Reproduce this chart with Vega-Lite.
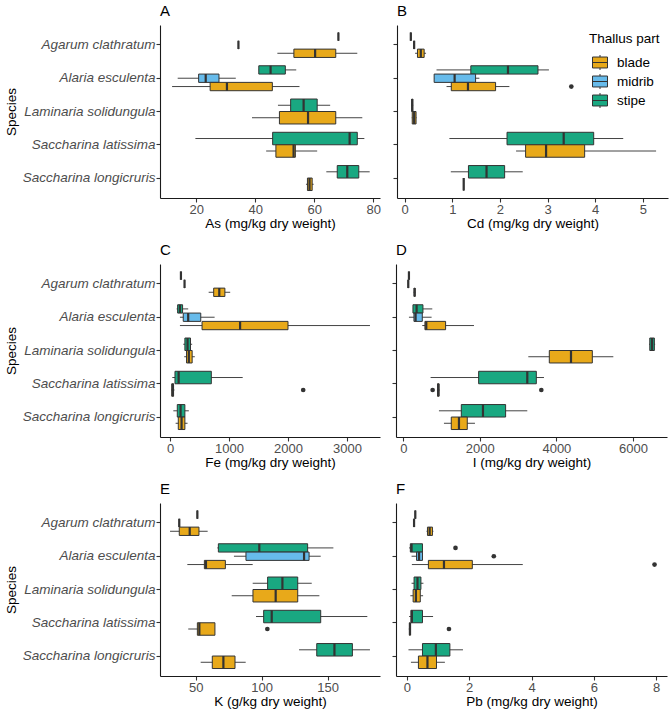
{
"$schema": "https://vega.github.io/schema/vega-lite/v6.json",
"padding": {"left": 4, "top": 4, "right": 4, "bottom": 4},
"datasets": {"d": [
{"el":"As","sp":"Agarum clathratum","part":"stipe","lo":68.2,"q1":68.2,"med":68.2,"q3":68.2,"hi":68.2},
{"el":"As","sp":"Agarum clathratum","part":"midrib","lo":34.3,"q1":34.3,"med":34.3,"q3":34.3,"hi":34.3},
{"el":"As","sp":"Agarum clathratum","part":"blade","lo":47.5,"q1":53.1,"med":60.3,"q3":67.3,"hi":74.6},
{"el":"As","sp":"Alaria esculenta","part":"stipe","lo":41.2,"q1":41.2,"med":45.2,"q3":50.2,"hi":53.9},
{"el":"As","sp":"Alaria esculenta","part":"midrib","lo":13.7,"q1":20.8,"med":23.2,"q3":27.7,"hi":33.4},
{"el":"As","sp":"Alaria esculenta","part":"blade","lo":11.8,"q1":24.7,"med":30.4,"q3":45.8,"hi":55.0},
{"el":"As","sp":"Laminaria solidungula","part":"stipe","lo":47.7,"q1":52.0,"med":56.4,"q3":61.0,"hi":65.4},
{"el":"As","sp":"Laminaria solidungula","part":"blade","lo":38.9,"q1":48.2,"med":57.9,"q3":67.3,"hi":76.3},
{"el":"As","sp":"Saccharina latissima","part":"stipe","lo":19.7,"q1":45.9,"med":72.0,"q3":74.6,"hi":77.0},
{"el":"As","sp":"Saccharina latissima","part":"blade","lo":43.7,"q1":47.0,"med":53.0,"q3":53.6,"hi":61.0},
{"el":"As","sp":"Saccharina longicruris","part":"stipe","lo":64.1,"q1":67.8,"med":71.2,"q3":75.1,"hi":78.8},
{"el":"As","sp":"Saccharina longicruris","part":"blade","lo":57.2,"q1":57.7,"med":58.4,"q3":59.3,"hi":59.8},
{"el":"Cd","sp":"Agarum clathratum","part":"stipe","lo":0.13,"q1":0.13,"med":0.13,"q3":0.13,"hi":0.13},
{"el":"Cd","sp":"Agarum clathratum","part":"midrib","lo":0.2,"q1":0.2,"med":0.2,"q3":0.2,"hi":0.2},
{"el":"Cd","sp":"Agarum clathratum","part":"blade","lo":0.22,"q1":0.27,"med":0.34,"q3":0.41,"hi":0.45},
{"el":"Cd","sp":"Alaria esculenta","part":"stipe","lo":0.67,"q1":1.39,"med":2.17,"q3":2.8,"hi":3.03},
{"el":"Cd","sp":"Alaria esculenta","part":"midrib","lo":0.62,"q1":0.62,"med":1.05,"q3":1.49,"hi":1.57},
{"el":"Cd","sp":"Alaria esculenta","part":"blade","lo":0.88,"q1":0.98,"med":1.33,"q3":1.91,"hi":2.2},
{"el":"Cd","sp":"Alaria esculenta","part":"blade","out":3.5},
{"el":"Cd","sp":"Laminaria solidungula","part":"stipe","lo":0.14,"q1":0.15,"med":0.16,"q3":0.17,"hi":0.18},
{"el":"Cd","sp":"Laminaria solidungula","part":"blade","lo":0.15,"q1":0.16,"med":0.2,"q3":0.24,"hi":0.25},
{"el":"Cd","sp":"Saccharina latissima","part":"stipe","lo":0.94,"q1":2.15,"med":3.34,"q3":3.97,"hi":4.59},
{"el":"Cd","sp":"Saccharina latissima","part":"blade","lo":2.34,"q1":2.54,"med":2.97,"q3":3.78,"hi":5.28},
{"el":"Cd","sp":"Saccharina longicruris","part":"stipe","lo":0.97,"q1":1.34,"med":1.72,"q3":2.1,"hi":2.48},
{"el":"Cd","sp":"Saccharina longicruris","part":"blade","lo":1.24,"q1":1.24,"med":1.24,"q3":1.24,"hi":1.24},
{"el":"Fe","sp":"Agarum clathratum","part":"stipe","lo":185,"q1":185,"med":185,"q3":185,"hi":185},
{"el":"Fe","sp":"Agarum clathratum","part":"midrib","lo":246,"q1":246,"med":246,"q3":246,"hi":246},
{"el":"Fe","sp":"Agarum clathratum","part":"blade","lo":655,"q1":740,"med":835,"q3":930,"hi":1020},
{"el":"Fe","sp":"Alaria esculenta","part":"stipe","lo":112,"q1":129,"med":168,"q3":213,"hi":308},
{"el":"Fe","sp":"Alaria esculenta","part":"midrib","lo":168,"q1":224,"med":308,"q3":521,"hi":756},
{"el":"Fe","sp":"Alaria esculenta","part":"blade","lo":168,"q1":543,"med":1188,"q3":2000,"hi":3390},
{"el":"Fe","sp":"Laminaria solidungula","part":"stipe","lo":224,"q1":252,"med":297,"q3":347,"hi":375},
{"el":"Fe","sp":"Laminaria solidungula","part":"blade","lo":241,"q1":280,"med":319,"q3":375,"hi":420},
{"el":"Fe","sp":"Saccharina latissima","part":"stipe","lo":39,"q1":84,"med":146,"q3":700,"hi":1232},
{"el":"Fe","sp":"Saccharina latissima","part":"blade","lo":20,"q1":30,"med":45,"q3":60,"hi":75},
{"el":"Fe","sp":"Saccharina latissima","part":"blade","out":2258},
{"el":"Fe","sp":"Saccharina longicruris","part":"stipe","lo":56,"q1":123,"med":179,"q3":252,"hi":319},
{"el":"Fe","sp":"Saccharina longicruris","part":"blade","lo":95,"q1":140,"med":196,"q3":252,"hi":297},
{"el":"I","sp":"Agarum clathratum","part":"stipe","lo":148,"q1":148,"med":148,"q3":148,"hi":148},
{"el":"I","sp":"Agarum clathratum","part":"midrib","lo":131,"q1":131,"med":131,"q3":131,"hi":131},
{"el":"I","sp":"Agarum clathratum","part":"blade","lo":270,"q1":285,"med":296,"q3":310,"hi":320},
{"el":"I","sp":"Alaria esculenta","part":"stipe","lo":253,"q1":253,"med":348,"q3":514,"hi":758},
{"el":"I","sp":"Alaria esculenta","part":"midrib","lo":148,"q1":279,"med":322,"q3":497,"hi":740},
{"el":"I","sp":"Alaria esculenta","part":"blade","lo":497,"q1":566,"med":601,"q3":1106,"hi":1847},
{"el":"I","sp":"Laminaria solidungula","part":"stipe","lo":6420,"q1":6440,"med":6500,"q3":6560,"hi":6580},
{"el":"I","sp":"Laminaria solidungula","part":"blade","lo":3267,"q1":3815,"med":4382,"q3":4939,"hi":5488},
{"el":"I","sp":"Saccharina latissima","part":"stipe","lo":714,"q1":1969,"med":3240,"q3":3476,"hi":3676},
{"el":"I","sp":"Saccharina latissima","part":"blade","lo":880,"q1":895,"med":915,"q3":935,"hi":950},
{"el":"I","sp":"Saccharina latissima","part":"blade","out":767},
{"el":"I","sp":"Saccharina latissima","part":"blade","out":3606},
{"el":"I","sp":"Saccharina longicruris","part":"stipe","lo":932,"q1":1516,"med":2082,"q3":2674,"hi":3240},
{"el":"I","sp":"Saccharina longicruris","part":"blade","lo":1063,"q1":1254,"med":1455,"q3":1672,"hi":1873},
{"el":"K","sp":"Agarum clathratum","part":"stipe","lo":51.3,"q1":51.3,"med":51.3,"q3":51.3,"hi":51.3},
{"el":"K","sp":"Agarum clathratum","part":"midrib","lo":37.6,"q1":37.6,"med":37.6,"q3":37.6,"hi":37.6},
{"el":"K","sp":"Agarum clathratum","part":"blade","lo":30.6,"q1":37.6,"med":45.5,"q3":52.5,"hi":59.1},
{"el":"K","sp":"Alaria esculenta","part":"stipe","lo":66.4,"q1":67.2,"med":98.2,"q3":134.8,"hi":154.3},
{"el":"K","sp":"Alaria esculenta","part":"midrib","lo":79.0,"q1":88.1,"med":132.1,"q3":135.9,"hi":144.7},
{"el":"K","sp":"Alaria esculenta","part":"blade","lo":43.7,"q1":56.6,"med":57.8,"q3":72.5,"hi":93.2},
{"el":"K","sp":"Laminaria solidungula","part":"stipe","lo":93.2,"q1":104.5,"med":115.7,"q3":127.3,"hi":137.9},
{"el":"K","sp":"Laminaria solidungula","part":"blade","lo":77.3,"q1":93.4,"med":110.6,"q3":127.3,"hi":143.7},
{"el":"K","sp":"Saccharina latissima","part":"stipe","lo":95.7,"q1":101.5,"med":107.6,"q3":144.7,"hi":180.0},
{"el":"K","sp":"Saccharina latissima","part":"blade","lo":44.4,"q1":51.3,"med":52.8,"q3":64.6,"hi":64.6},
{"el":"K","sp":"Saccharina latissima","part":"blade","out":104.3},
{"el":"K","sp":"Saccharina longicruris","part":"stipe","lo":128.3,"q1":141.7,"med":155.1,"q3":168.7,"hi":182.0},
{"el":"K","sp":"Saccharina longicruris","part":"blade","lo":53.8,"q1":62.6,"med":71.0,"q3":79.8,"hi":87.9},
{"el":"Pb","sp":"Agarum clathratum","part":"stipe","lo":0.27,"q1":0.27,"med":0.27,"q3":0.27,"hi":0.27},
{"el":"Pb","sp":"Agarum clathratum","part":"midrib","lo":0.23,"q1":0.23,"med":0.23,"q3":0.23,"hi":0.23},
{"el":"Pb","sp":"Agarum clathratum","part":"blade","lo":0.63,"q1":0.66,"med":0.73,"q3":0.82,"hi":0.85},
{"el":"Pb","sp":"Alaria esculenta","part":"stipe","lo":0.07,"q1":0.11,"med":0.15,"q3":0.5,"hi":0.5},
{"el":"Pb","sp":"Alaria esculenta","part":"stipe","out":1.56},
{"el":"Pb","sp":"Alaria esculenta","part":"midrib","lo":0.15,"q1":0.31,"med":0.39,"q3":0.5,"hi":0.5},
{"el":"Pb","sp":"Alaria esculenta","part":"midrib","out":2.79},
{"el":"Pb","sp":"Alaria esculenta","part":"blade","lo":0.16,"q1":0.69,"med":1.19,"q3":2.1,"hi":3.72},
{"el":"Pb","sp":"Alaria esculenta","part":"blade","out":7.95},
{"el":"Pb","sp":"Laminaria solidungula","part":"stipe","lo":0.15,"q1":0.23,"med":0.34,"q3":0.45,"hi":0.53},
{"el":"Pb","sp":"Laminaria solidungula","part":"blade","lo":0.11,"q1":0.2,"med":0.29,"q3":0.43,"hi":0.52},
{"el":"Pb","sp":"Saccharina latissima","part":"stipe","lo":0.07,"q1":0.13,"med":0.16,"q3":0.5,"hi":0.84},
{"el":"Pb","sp":"Saccharina latissima","part":"blade","lo":0.06,"q1":0.08,"med":0.1,"q3":0.11,"hi":0.12},
{"el":"Pb","sp":"Saccharina latissima","part":"blade","out":1.35},
{"el":"Pb","sp":"Saccharina longicruris","part":"stipe","lo":0.05,"q1":0.5,"med":0.93,"q3":1.38,"hi":1.8},
{"el":"Pb","sp":"Saccharina longicruris","part":"blade","lo":0.13,"q1":0.37,"med":0.66,"q3":0.95,"hi":1.22}
]},
"resolve": {"legend": {"fill": "independent"}},
"vconcat": [
{"resolve": {"legend": {"fill": "independent"}}, "hconcat": [
{"title": "A", "width": 220, "height": 173, "data": {"name": "d"}, "transform": [{"filter": "datum.el=='As'"}],
 "encoding": {"y": {"field": "sp", "type": "nominal", "scale": {"domain": ["Agarum clathratum","Alaria esculenta","Laminaria solidungula","Saccharina latissima","Saccharina longicruris"], "paddingInner": 0, "paddingOuter": 0.1}, "axis": {"title": "Species", "labelFontStyle": "italic", "labelFontSize": 13.5, "titlePadding": 4}}},
 "resolve": {"scale": {"yOffset": "independent"}},
 "layer": [
  {"transform": [{"filter": "datum.sp=='Agarum clathratum'||datum.sp=='Alaria esculenta'"}],
   "encoding": {"yOffset": {"field": "part", "scale": {"domain": ["stipe","midrib","blade"], "paddingInner": 0, "paddingOuter": 0.5}}},
   "layer": [
    {"mark": "rule", "encoding": {"x": {"field": "lo", "type": "quantitative", "title": "As (mg/kg dry weight)", "scale": {"domain": [7.7,82.3], "nice": false, "zero": false}, "axis": {"values": [20,40,60,80], "format": "d"}}, "x2": {"field": "hi"}}},
    {"mark": "bar", "encoding": {"x": {"field": "q1", "type": "quantitative", "title": "As (mg/kg dry weight)", "scale": {"domain": [7.7,82.3], "nice": false, "zero": false}}, "x2": {"field": "q3"}, "fill": {"field": "part", "type": "nominal", "title": "Thallus part", "legend": null, "scale": {"domain": ["blade","midrib","stipe"], "range": ["#E8A91A","#67BBEB","#19A881"]}}}},
    {"mark": {"type": "bar", "fill": "#333333", "stroke": "#333333", "strokeWidth": 2.2}, "encoding": {"x": {"field": "med", "type": "quantitative", "title": "As (mg/kg dry weight)", "scale": {"domain": [7.7,82.3], "nice": false, "zero": false}}, "x2": {"field": "med"}}},
    {"transform": [{"filter": "isValid(datum.out)"}], "mark": "point", "encoding": {"x": {"field": "out", "type": "quantitative", "title": "As (mg/kg dry weight)", "scale": {"domain": [7.7,82.3], "nice": false, "zero": false}}}}
   ]},
  {"transform": [{"filter": "datum.sp!='Agarum clathratum'&&datum.sp!='Alaria esculenta'"}],
   "encoding": {"yOffset": {"field": "part", "scale": {"domain": ["stipe","blade"], "paddingInner": 0, "paddingOuter": 0.333}}},
   "layer": [
    {"mark": "rule", "encoding": {"x": {"field": "lo", "type": "quantitative", "title": "As (mg/kg dry weight)", "scale": {"domain": [7.7,82.3], "nice": false, "zero": false}}, "x2": {"field": "hi"}}},
    {"mark": "bar", "encoding": {"x": {"field": "q1", "type": "quantitative", "title": "As (mg/kg dry weight)", "scale": {"domain": [7.7,82.3], "nice": false, "zero": false}}, "x2": {"field": "q3"}, "fill": {"field": "part", "type": "nominal", "title": "Thallus part", "legend": null}}},
    {"mark": {"type": "bar", "fill": "#333333", "stroke": "#333333", "strokeWidth": 2.2}, "encoding": {"x": {"field": "med", "type": "quantitative", "title": "As (mg/kg dry weight)", "scale": {"domain": [7.7,82.3], "nice": false, "zero": false}}, "x2": {"field": "med"}}},
    {"transform": [{"filter": "isValid(datum.out)"}], "mark": "point", "encoding": {"x": {"field": "out", "type": "quantitative", "title": "As (mg/kg dry weight)", "scale": {"domain": [7.7,82.3], "nice": false, "zero": false}}}}
   ]}
 ]},
{"title": "B", "width": 271, "height": 173, "data": {"name": "d"}, "transform": [{"filter": "datum.el=='Cd'"}],
 "encoding": {"y": {"field": "sp", "type": "nominal", "scale": {"domain": ["Agarum clathratum","Alaria esculenta","Laminaria solidungula","Saccharina latissima","Saccharina longicruris"], "paddingInner": 0, "paddingOuter": 0.1}, "axis": {"title": null, "labels": false}}},
 "resolve": {"scale": {"yOffset": "independent"}},
 "layer": [
  {"transform": [{"filter": "datum.sp=='Agarum clathratum'||datum.sp=='Alaria esculenta'"}],
   "encoding": {"yOffset": {"field": "part", "scale": {"domain": ["stipe","midrib","blade"], "paddingInner": 0, "paddingOuter": 0.5}}},
   "layer": [
    {"mark": "rule", "encoding": {"x": {"field": "lo", "type": "quantitative", "title": "Cd (mg/kg dry weight)", "scale": {"domain": [-0.16,5.53], "nice": false, "zero": false}, "axis": {"values": [0,1,2,3,4,5], "format": "d"}}, "x2": {"field": "hi"}}},
    {"mark": "bar", "encoding": {"x": {"field": "q1", "type": "quantitative", "title": "Cd (mg/kg dry weight)", "scale": {"domain": [-0.16,5.53], "nice": false, "zero": false}}, "x2": {"field": "q3"}, "fill": {"field": "part", "type": "nominal", "title": "Thallus part"}}},
    {"mark": {"type": "bar", "fill": "#333333", "stroke": "#333333", "strokeWidth": 2.2}, "encoding": {"x": {"field": "med", "type": "quantitative", "title": "Cd (mg/kg dry weight)", "scale": {"domain": [-0.16,5.53], "nice": false, "zero": false}}, "x2": {"field": "med"}}},
    {"transform": [{"filter": "isValid(datum.out)"}], "mark": "point", "encoding": {"x": {"field": "out", "type": "quantitative", "title": "Cd (mg/kg dry weight)", "scale": {"domain": [-0.16,5.53], "nice": false, "zero": false}}}}
   ]},
  {"transform": [{"filter": "datum.sp!='Agarum clathratum'&&datum.sp!='Alaria esculenta'"}],
   "encoding": {"yOffset": {"field": "part", "scale": {"domain": ["stipe","blade"], "paddingInner": 0, "paddingOuter": 0.333}}},
   "layer": [
    {"mark": "rule", "encoding": {"x": {"field": "lo", "type": "quantitative", "title": "Cd (mg/kg dry weight)", "scale": {"domain": [-0.16,5.53], "nice": false, "zero": false}}, "x2": {"field": "hi"}}},
    {"mark": "bar", "encoding": {"x": {"field": "q1", "type": "quantitative", "title": "Cd (mg/kg dry weight)", "scale": {"domain": [-0.16,5.53], "nice": false, "zero": false}}, "x2": {"field": "q3"}, "fill": {"field": "part", "type": "nominal", "title": "Thallus part"}}},
    {"mark": {"type": "bar", "fill": "#333333", "stroke": "#333333", "strokeWidth": 2.2}, "encoding": {"x": {"field": "med", "type": "quantitative", "title": "Cd (mg/kg dry weight)", "scale": {"domain": [-0.16,5.53], "nice": false, "zero": false}}, "x2": {"field": "med"}}},
    {"transform": [{"filter": "isValid(datum.out)"}], "mark": "point", "encoding": {"x": {"field": "out", "type": "quantitative", "title": "Cd (mg/kg dry weight)", "scale": {"domain": [-0.16,5.53], "nice": false, "zero": false}}}}
   ]}
 ]}
], "spacing": 11},
{"resolve": {"legend": {"fill": "independent"}}, "hconcat": [
{"title": "C", "width": 220, "height": 173, "data": {"name": "d"}, "transform": [{"filter": "datum.el=='Fe'"}],
 "encoding": {"y": {"field": "sp", "type": "nominal", "scale": {"domain": ["Agarum clathratum","Alaria esculenta","Laminaria solidungula","Saccharina latissima","Saccharina longicruris"], "paddingInner": 0, "paddingOuter": 0.1}, "axis": {"title": "Species", "labelFontStyle": "italic", "labelFontSize": 13.5, "titlePadding": 4}}},
 "resolve": {"scale": {"yOffset": "independent"}},
 "layer": [
  {"transform": [{"filter": "datum.sp=='Agarum clathratum'||datum.sp=='Alaria esculenta'"}],
   "encoding": {"yOffset": {"field": "part", "scale": {"domain": ["stipe","midrib","blade"], "paddingInner": 0, "paddingOuter": 0.5}}},
   "layer": [
    {"mark": "rule", "encoding": {"x": {"field": "lo", "type": "quantitative", "title": "Fe (mg/kg dry weight)", "scale": {"domain": [-170,3560], "nice": false, "zero": false}, "axis": {"values": [0,1000,2000,3000], "format": "d"}}, "x2": {"field": "hi"}}},
    {"mark": "bar", "encoding": {"x": {"field": "q1", "type": "quantitative", "title": "Fe (mg/kg dry weight)", "scale": {"domain": [-170,3560], "nice": false, "zero": false}}, "x2": {"field": "q3"}, "fill": {"field": "part", "type": "nominal", "title": "Thallus part", "legend": null}}},
    {"mark": {"type": "bar", "fill": "#333333", "stroke": "#333333", "strokeWidth": 2.2}, "encoding": {"x": {"field": "med", "type": "quantitative", "title": "Fe (mg/kg dry weight)", "scale": {"domain": [-170,3560], "nice": false, "zero": false}}, "x2": {"field": "med"}}},
    {"transform": [{"filter": "isValid(datum.out)"}], "mark": "point", "encoding": {"x": {"field": "out", "type": "quantitative", "title": "Fe (mg/kg dry weight)", "scale": {"domain": [-170,3560], "nice": false, "zero": false}}}}
   ]},
  {"transform": [{"filter": "datum.sp!='Agarum clathratum'&&datum.sp!='Alaria esculenta'"}],
   "encoding": {"yOffset": {"field": "part", "scale": {"domain": ["stipe","blade"], "paddingInner": 0, "paddingOuter": 0.333}}},
   "layer": [
    {"mark": "rule", "encoding": {"x": {"field": "lo", "type": "quantitative", "title": "Fe (mg/kg dry weight)", "scale": {"domain": [-170,3560], "nice": false, "zero": false}}, "x2": {"field": "hi"}}},
    {"mark": "bar", "encoding": {"x": {"field": "q1", "type": "quantitative", "title": "Fe (mg/kg dry weight)", "scale": {"domain": [-170,3560], "nice": false, "zero": false}}, "x2": {"field": "q3"}, "fill": {"field": "part", "type": "nominal", "title": "Thallus part", "legend": null}}},
    {"mark": {"type": "bar", "fill": "#333333", "stroke": "#333333", "strokeWidth": 2.2}, "encoding": {"x": {"field": "med", "type": "quantitative", "title": "Fe (mg/kg dry weight)", "scale": {"domain": [-170,3560], "nice": false, "zero": false}}, "x2": {"field": "med"}}},
    {"transform": [{"filter": "isValid(datum.out)"}], "mark": "point", "encoding": {"x": {"field": "out", "type": "quantitative", "title": "Fe (mg/kg dry weight)", "scale": {"domain": [-170,3560], "nice": false, "zero": false}}}}
   ]}
 ]},
{"title": "D", "width": 271, "height": 173, "data": {"name": "d"}, "transform": [{"filter": "datum.el=='I'"}],
 "encoding": {"y": {"field": "sp", "type": "nominal", "scale": {"domain": ["Agarum clathratum","Alaria esculenta","Laminaria solidungula","Saccharina latissima","Saccharina longicruris"], "paddingInner": 0, "paddingOuter": 0.1}, "axis": {"title": null, "labels": false}}},
 "resolve": {"scale": {"yOffset": "independent"}},
 "layer": [
  {"transform": [{"filter": "datum.sp=='Agarum clathratum'||datum.sp=='Alaria esculenta'"}],
   "encoding": {"yOffset": {"field": "part", "scale": {"domain": ["stipe","midrib","blade"], "paddingInner": 0, "paddingOuter": 0.5}}},
   "layer": [
    {"mark": "rule", "encoding": {"x": {"field": "lo", "type": "quantitative", "title": "I (mg/kg dry weight)", "scale": {"domain": [-190,6890], "nice": false, "zero": false}, "axis": {"values": [0,2000,4000,6000], "format": "d"}}, "x2": {"field": "hi"}}},
    {"mark": "bar", "encoding": {"x": {"field": "q1", "type": "quantitative", "title": "I (mg/kg dry weight)", "scale": {"domain": [-190,6890], "nice": false, "zero": false}}, "x2": {"field": "q3"}, "fill": {"field": "part", "type": "nominal", "title": "Thallus part", "legend": null}}},
    {"mark": {"type": "bar", "fill": "#333333", "stroke": "#333333", "strokeWidth": 2.2}, "encoding": {"x": {"field": "med", "type": "quantitative", "title": "I (mg/kg dry weight)", "scale": {"domain": [-190,6890], "nice": false, "zero": false}}, "x2": {"field": "med"}}},
    {"transform": [{"filter": "isValid(datum.out)"}], "mark": "point", "encoding": {"x": {"field": "out", "type": "quantitative", "title": "I (mg/kg dry weight)", "scale": {"domain": [-190,6890], "nice": false, "zero": false}}}}
   ]},
  {"transform": [{"filter": "datum.sp!='Agarum clathratum'&&datum.sp!='Alaria esculenta'"}],
   "encoding": {"yOffset": {"field": "part", "scale": {"domain": ["stipe","blade"], "paddingInner": 0, "paddingOuter": 0.333}}},
   "layer": [
    {"mark": "rule", "encoding": {"x": {"field": "lo", "type": "quantitative", "title": "I (mg/kg dry weight)", "scale": {"domain": [-190,6890], "nice": false, "zero": false}}, "x2": {"field": "hi"}}},
    {"mark": "bar", "encoding": {"x": {"field": "q1", "type": "quantitative", "title": "I (mg/kg dry weight)", "scale": {"domain": [-190,6890], "nice": false, "zero": false}}, "x2": {"field": "q3"}, "fill": {"field": "part", "type": "nominal", "title": "Thallus part", "legend": null}}},
    {"mark": {"type": "bar", "fill": "#333333", "stroke": "#333333", "strokeWidth": 2.2}, "encoding": {"x": {"field": "med", "type": "quantitative", "title": "I (mg/kg dry weight)", "scale": {"domain": [-190,6890], "nice": false, "zero": false}}, "x2": {"field": "med"}}},
    {"transform": [{"filter": "isValid(datum.out)"}], "mark": "point", "encoding": {"x": {"field": "out", "type": "quantitative", "title": "I (mg/kg dry weight)", "scale": {"domain": [-190,6890], "nice": false, "zero": false}}}}
   ]}
 ]}
], "spacing": 11},
{"resolve": {"legend": {"fill": "independent"}}, "hconcat": [
{"title": "E", "width": 220, "height": 173, "data": {"name": "d"}, "transform": [{"filter": "datum.el=='K'"}],
 "encoding": {"y": {"field": "sp", "type": "nominal", "scale": {"domain": ["Agarum clathratum","Alaria esculenta","Laminaria solidungula","Saccharina latissima","Saccharina longicruris"], "paddingInner": 0, "paddingOuter": 0.1}, "axis": {"title": "Species", "labelFontStyle": "italic", "labelFontSize": 13.5, "titlePadding": 4}}},
 "resolve": {"scale": {"yOffset": "independent"}},
 "layer": [
  {"transform": [{"filter": "datum.sp=='Agarum clathratum'||datum.sp=='Alaria esculenta'"}],
   "encoding": {"yOffset": {"field": "part", "scale": {"domain": ["stipe","midrib","blade"], "paddingInner": 0, "paddingOuter": 0.5}}},
   "layer": [
    {"mark": "rule", "encoding": {"x": {"field": "lo", "type": "quantitative", "title": "K (g/kg dry weight)", "scale": {"domain": [23,189.6], "nice": false, "zero": false}, "axis": {"values": [50,100,150], "format": "d"}}, "x2": {"field": "hi"}}},
    {"mark": "bar", "encoding": {"x": {"field": "q1", "type": "quantitative", "title": "K (g/kg dry weight)", "scale": {"domain": [23,189.6], "nice": false, "zero": false}}, "x2": {"field": "q3"}, "fill": {"field": "part", "type": "nominal", "title": "Thallus part", "legend": null}}},
    {"mark": {"type": "bar", "fill": "#333333", "stroke": "#333333", "strokeWidth": 2.2}, "encoding": {"x": {"field": "med", "type": "quantitative", "title": "K (g/kg dry weight)", "scale": {"domain": [23,189.6], "nice": false, "zero": false}}, "x2": {"field": "med"}}},
    {"transform": [{"filter": "isValid(datum.out)"}], "mark": "point", "encoding": {"x": {"field": "out", "type": "quantitative", "title": "K (g/kg dry weight)", "scale": {"domain": [23,189.6], "nice": false, "zero": false}}}}
   ]},
  {"transform": [{"filter": "datum.sp!='Agarum clathratum'&&datum.sp!='Alaria esculenta'"}],
   "encoding": {"yOffset": {"field": "part", "scale": {"domain": ["stipe","blade"], "paddingInner": 0, "paddingOuter": 0.333}}},
   "layer": [
    {"mark": "rule", "encoding": {"x": {"field": "lo", "type": "quantitative", "title": "K (g/kg dry weight)", "scale": {"domain": [23,189.6], "nice": false, "zero": false}}, "x2": {"field": "hi"}}},
    {"mark": "bar", "encoding": {"x": {"field": "q1", "type": "quantitative", "title": "K (g/kg dry weight)", "scale": {"domain": [23,189.6], "nice": false, "zero": false}}, "x2": {"field": "q3"}, "fill": {"field": "part", "type": "nominal", "title": "Thallus part", "legend": null}}},
    {"mark": {"type": "bar", "fill": "#333333", "stroke": "#333333", "strokeWidth": 2.2}, "encoding": {"x": {"field": "med", "type": "quantitative", "title": "K (g/kg dry weight)", "scale": {"domain": [23,189.6], "nice": false, "zero": false}}, "x2": {"field": "med"}}},
    {"transform": [{"filter": "isValid(datum.out)"}], "mark": "point", "encoding": {"x": {"field": "out", "type": "quantitative", "title": "K (g/kg dry weight)", "scale": {"domain": [23,189.6], "nice": false, "zero": false}}}}
   ]}
 ]},
{"title": "F", "width": 271, "height": 173, "data": {"name": "d"}, "transform": [{"filter": "datum.el=='Pb'"}],
 "encoding": {"y": {"field": "sp", "type": "nominal", "scale": {"domain": ["Agarum clathratum","Alaria esculenta","Laminaria solidungula","Saccharina latissima","Saccharina longicruris"], "paddingInner": 0, "paddingOuter": 0.1}, "axis": {"title": null, "labels": false}}},
 "resolve": {"scale": {"yOffset": "independent"}},
 "layer": [
  {"transform": [{"filter": "datum.sp=='Agarum clathratum'||datum.sp=='Alaria esculenta'"}],
   "encoding": {"yOffset": {"field": "part", "scale": {"domain": ["stipe","midrib","blade"], "paddingInner": 0, "paddingOuter": 0.5}}},
   "layer": [
    {"mark": "rule", "encoding": {"x": {"field": "lo", "type": "quantitative", "title": "Pb (mg/kg dry weight)", "scale": {"domain": [-0.35,8.35], "nice": false, "zero": false}, "axis": {"values": [0,2,4,6,8], "format": "d"}}, "x2": {"field": "hi"}}},
    {"mark": "bar", "encoding": {"x": {"field": "q1", "type": "quantitative", "title": "Pb (mg/kg dry weight)", "scale": {"domain": [-0.35,8.35], "nice": false, "zero": false}}, "x2": {"field": "q3"}, "fill": {"field": "part", "type": "nominal", "title": "Thallus part", "legend": null}}},
    {"mark": {"type": "bar", "fill": "#333333", "stroke": "#333333", "strokeWidth": 2.2}, "encoding": {"x": {"field": "med", "type": "quantitative", "title": "Pb (mg/kg dry weight)", "scale": {"domain": [-0.35,8.35], "nice": false, "zero": false}}, "x2": {"field": "med"}}},
    {"transform": [{"filter": "isValid(datum.out)"}], "mark": "point", "encoding": {"x": {"field": "out", "type": "quantitative", "title": "Pb (mg/kg dry weight)", "scale": {"domain": [-0.35,8.35], "nice": false, "zero": false}}}}
   ]},
  {"transform": [{"filter": "datum.sp!='Agarum clathratum'&&datum.sp!='Alaria esculenta'"}],
   "encoding": {"yOffset": {"field": "part", "scale": {"domain": ["stipe","blade"], "paddingInner": 0, "paddingOuter": 0.333}}},
   "layer": [
    {"mark": "rule", "encoding": {"x": {"field": "lo", "type": "quantitative", "title": "Pb (mg/kg dry weight)", "scale": {"domain": [-0.35,8.35], "nice": false, "zero": false}}, "x2": {"field": "hi"}}},
    {"mark": "bar", "encoding": {"x": {"field": "q1", "type": "quantitative", "title": "Pb (mg/kg dry weight)", "scale": {"domain": [-0.35,8.35], "nice": false, "zero": false}}, "x2": {"field": "q3"}, "fill": {"field": "part", "type": "nominal", "title": "Thallus part", "legend": null}}},
    {"mark": {"type": "bar", "fill": "#333333", "stroke": "#333333", "strokeWidth": 2.2}, "encoding": {"x": {"field": "med", "type": "quantitative", "title": "Pb (mg/kg dry weight)", "scale": {"domain": [-0.35,8.35], "nice": false, "zero": false}}, "x2": {"field": "med"}}},
    {"transform": [{"filter": "isValid(datum.out)"}], "mark": "point", "encoding": {"x": {"field": "out", "type": "quantitative", "title": "Pb (mg/kg dry weight)", "scale": {"domain": [-0.35,8.35], "nice": false, "zero": false}}}}
   ]}
 ]}
], "spacing": 11}
],
"spacing": 13,
"config": {
 "font": "Liberation Sans",
 "view": {"stroke": null},
 "axis": {"grid": false, "domainColor": "#1a1a1a", "domainWidth": 1.1, "tickColor": "#333333", "tickSize": 4, "tickWidth": 1.1, "labelColor": "#4D4D4D", "labelFontSize": 13, "labelPadding": 1, "titleFontSize": 13.5, "titleFontWeight": "normal", "titleColor": "#000000", "titlePadding": 0, "labelFlush": false},
 "legend": {"orient": "none", "legendX": 192, "legendY": 7, "padding": 0, "symbolType": "M-1,-0.73L1,-0.73L1,0.73L-1,0.73Z M-1,0L1,0 M0,-1L0,-0.73 M0,0.73L0,1", "symbolSize": 225, "symbolOffset": 3, "symbolStrokeColor": "#333333", "symbolStrokeWidth": 1, "symbolOpacity": 1, "titleFontSize": 13.5, "titleFontWeight": "normal", "titleColor": "#000000", "labelFontSize": 13.5, "labelColor": "#000000", "rowPadding": -1, "titlePadding": 9, "labelOffset": 9},
 "title": {"anchor": "start", "frame": "group", "fontSize": 15, "fontWeight": "normal", "color": "#000000", "offset": 6},
 "rule": {"color": "#444444", "strokeWidth": 1},
 "bar": {"stroke": "#333333", "strokeWidth": 1},
 "point": {"filled": true, "color": "#333333", "size": 22, "opacity": 1}
}
}
